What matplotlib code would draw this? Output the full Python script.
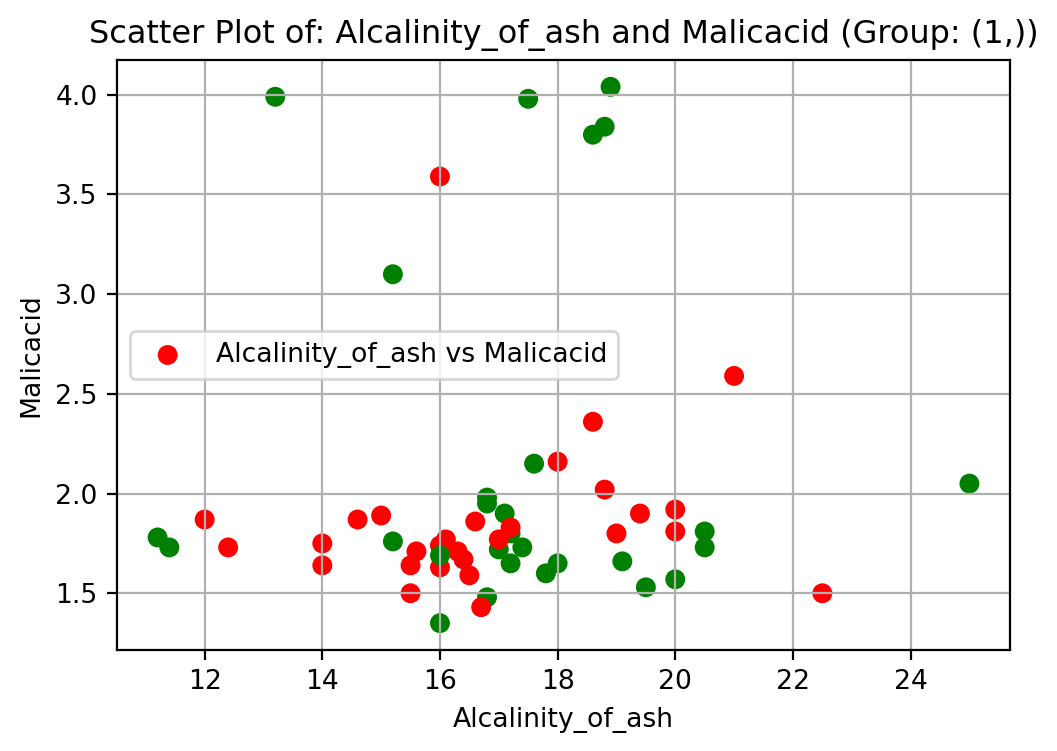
import matplotlib
matplotlib.use('Agg')
import matplotlib.pyplot as plt

# Alcalinity_of_ash / Malicacid points, group 1
alcalinity_red = [12.0, 12.4, 14.0, 14.0, 14.6, 15.0, 15.5, 15.5, 15.6, 16.0,
                  16.0, 16.0, 16.1, 16.3, 16.4, 16.5, 16.6, 16.7, 17.0, 17.2,
                  18.0, 18.6, 18.8, 19.0, 19.4, 20.0, 20.0, 21.0, 22.5]
malic_red = [1.87, 1.73, 1.75, 1.64, 1.87, 1.89, 1.64, 1.50, 1.71, 3.59,
             1.74, 1.63, 1.77, 1.71, 1.67, 1.59, 1.86, 1.43, 1.77, 1.83,
             2.16, 2.36, 2.02, 1.80, 1.90, 1.92, 1.81, 2.59, 1.50]

alcalinity_green = [11.2, 11.4, 13.2, 15.2, 15.2, 16.0, 16.8, 16.8, 16.8,
                    17.0, 17.1, 17.2, 17.2, 17.4, 17.5, 17.6, 17.8, 18.0, 18.6,
                    18.8, 18.9, 19.1, 19.5, 20.0, 20.5, 20.5, 25.0, 16.0]
malic_green = [1.78, 1.73, 3.99, 3.10, 1.76, 1.35, 1.98, 1.95, 1.48,
               1.72, 1.90, 1.80, 1.65, 1.73, 3.98, 2.15, 1.60, 1.65, 3.80,
               3.84, 4.04, 1.66, 1.53, 1.57, 1.81, 1.73, 2.05, 1.69]

# ordem de desenho: um vermelho primeiro (cor da legenda), depois os verdes,
# o resto dos vermelhos, e o ultimo verde por cima
x = alcalinity_red[:1] + alcalinity_green[:-1] + alcalinity_red[1:] + alcalinity_green[-1:]
y = malic_red[:1] + malic_green[:-1] + malic_red[1:] + malic_green[-1:]
cores = (['red'] + ['green'] * (len(alcalinity_green) - 1)
         + ['red'] * (len(alcalinity_red) - 1) + ['green'])

plt.rcParams['font.size'] = 9.6

fig = plt.figure(figsize=(10.57 / 2, 7.51 / 2), dpi=200)
ax = fig.add_axes([117 / 1057, 1 - 650 / 751, (1010 - 117) / 1057, (650 - 60) / 751])
ax.scatter(x, y, c=cores, s=38, label='Alcalinity_of_ash vs Malicacid')
ax.set_xlabel('Alcalinity_of_ash')
ax.set_ylabel('Malicacid')
ax.set_title('Scatter Plot of: Alcalinity_of_ash and Malicacid (Group: (1,))')
ax.legend(loc='center left')
ax.grid(True)

fig.savefig('out.png', dpi=200)
